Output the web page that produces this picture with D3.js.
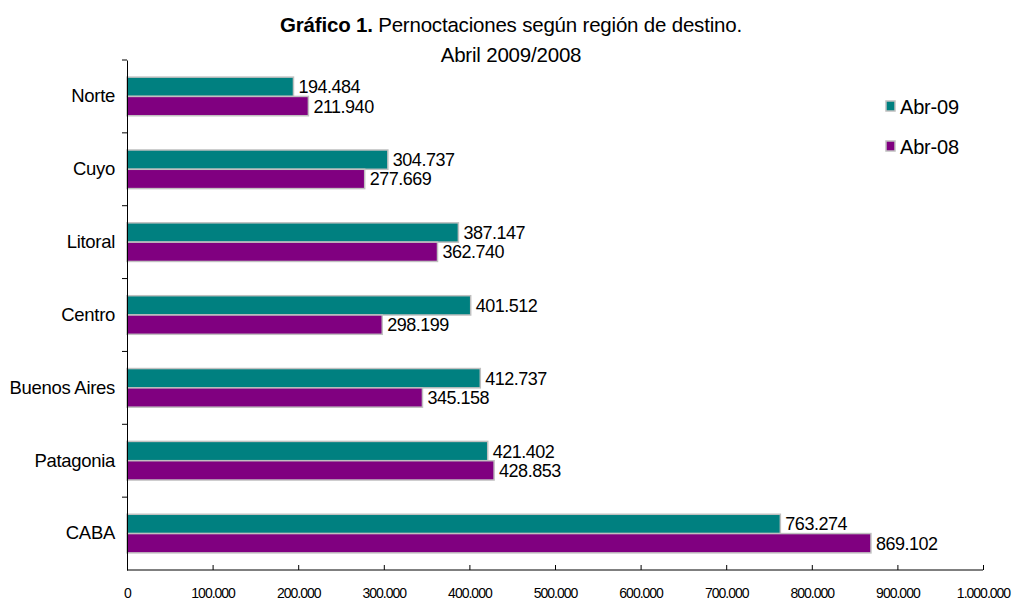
<!DOCTYPE html>
<html>
<head>
<meta charset="utf-8">
<script src="https://cdn.jsdelivr.net/npm/d3@7"></script>
<style>
  body { margin: 0; background: #fff; }
  text { font-family: "Liberation Sans", Arial, sans-serif; }
</style>
</head>
<body>
<div id="graph"></div>
<script>
const regions = ['Norte', 'Cuyo', 'Litoral', 'Centro', 'Buenos Aires', 'Patagonia', 'CABA'];
const abr09 = [194484, 304737, 387147, 401512, 412737, 421402, 763274];
const abr08 = [211940, 277669, 362740, 298199, 345158, 428853, 869102];
const seriesNames = ['Abr-09', 'Abr-08'];
const seriesColors = ['#008080', '#800080'];
const xTicks = [0, 100000, 200000, 300000, 400000, 500000, 600000, 700000, 800000, 900000, 1000000];

let margin = { top: 60, right: 32, bottom: 33, left: 127 },
  width = 1015 - margin.left - margin.right,
  height = 603 - margin.top - margin.bottom;

const fmt = (v) => d3.format(',')(v).replace(/,/g, '.');

let svg = d3.select('#graph').append('svg')
  .attr('width', 1015)
  .attr('height', 603);

// title
let title = svg.append('text')
  .attr('x', 511)
  .attr('y', 32)
  .attr('text-anchor', 'middle')
  .attr('font-size', 20.5)
  .attr('letter-spacing', -0.2);
title.append('tspan').attr('font-weight', 'bold').text('Gráfico 1.');
title.append('tspan').text(' Pernoctaciones según región de destino.');
svg.append('text')
  .attr('x', 511)
  .attr('y', 62)
  .attr('text-anchor', 'middle')
  .attr('font-size', 20.5)
  .attr('letter-spacing', -0.2)
  .text('Abril 2009/2008');

let xScale = d3.scaleLinear().domain([0, 1000000]).range([0, width]);
let yScale = d3.scaleBand().domain(regions).range([0, height]).paddingInner(0.47).paddingOuter(0.235);
let inner = d3.scaleBand().domain(seriesNames).range([0, yScale.bandwidth()]);

let vis = svg.append('g')
  .attr('transform', 'translate(' + margin.left + ',' + margin.top + ')');

const data = regions.map((r, i) => ({ region: r, values: [abr09[i], abr08[i]] }));

let groups = vis.selectAll('g.region')
  .data(data)
  .join('g')
  .attr('class', 'region')
  .attr('transform', (d) => 'translate(0,' + yScale(d.region) + ')');

groups.selectAll('rect')
  .data((d) => d.values.map((v, j) => ({ v: v, s: seriesNames[j], c: seriesColors[j] })))
  .join('rect')
  .attr('x', 0)
  .attr('y', (d) => inner(d.s))
  .attr('width', (d) => xScale(d.v))
  .attr('height', inner.bandwidth())
  .attr('fill', (d) => d.c)
  .attr('stroke', '#c0c0c0')
  .attr('stroke-width', 1.5);

groups.selectAll('text.val')
  .data((d) => d.values.map((v, j) => ({ v: v, s: seriesNames[j] })))
  .join('text')
  .attr('class', 'val')
  .attr('x', (d) => xScale(d.v) + 5)
  .attr('y', (d) => inner(d.s) + inner.bandwidth() / 2 + 6.5)
  .attr('font-size', 18)
  .attr('letter-spacing', -0.5)
  .attr('fill', '#000')
  .text((d) => fmt(d.v));

// y axis
let yAxis = d3.axisLeft(yScale).tickSize(0).tickPadding(12);
let yg = vis.append('g').call(yAxis);
yg.select('.domain').attr('stroke', '#000');
yg.selectAll('text').attr('font-size', 18.5).attr('fill', '#000')
  .attr('letter-spacing', -0.3)
  .attr('font-family', '"Liberation Sans", Arial, sans-serif')
  .attr('dy', '0.32em');
// category separator ticks
let sepScale = d3.scaleLinear().domain([0, regions.length]).range([0, height]);
vis.append('g')
  .selectAll('line')
  .data(d3.range(regions.length))
  .join('line')
  .attr('x1', -5)
  .attr('x2', 0)
  .attr('y1', (d) => sepScale(d))
  .attr('y2', (d) => sepScale(d))
  .attr('stroke', '#000');

// x axis
let xAxis = d3.axisBottom(xScale)
  .tickValues(xTicks)
  .tickSize(5)
  .tickPadding(13)
  .tickFormat((d) => fmt(d));
let xg = vis.append('g')
  .attr('transform', 'translate(0,' + height + ')')
  .call(xAxis);
xg.select('.domain').attr('stroke', '#000').attr('d', 'M0,0H' + width);
xg.selectAll('.tick line').attr('y1', -5).attr('y2', 0).attr('stroke', '#000');
xg.selectAll('text').attr('font-size', 14).attr('fill', '#000')
  .attr('letter-spacing', -1);

// legend
let legend = svg.append('g').attr('transform', 'translate(886,98)');
seriesNames.forEach((name, i) => {
  let g = legend.append('g').attr('transform', 'translate(0,' + i * 40 + ')');
  g.append('rect')
    .attr('x', 0).attr('y', 3)
    .attr('width', 9).attr('height', 10)
    .attr('fill', seriesColors[i])
    .attr('stroke', '#c0c0c0')
    .attr('stroke-width', 1.5);
  g.append('text')
    .attr('x', 14).attr('y', 16)
    .attr('font-size', 20)
    .attr('letter-spacing', -0.2)
    .text(name);
});
</script>
</body>
</html>
